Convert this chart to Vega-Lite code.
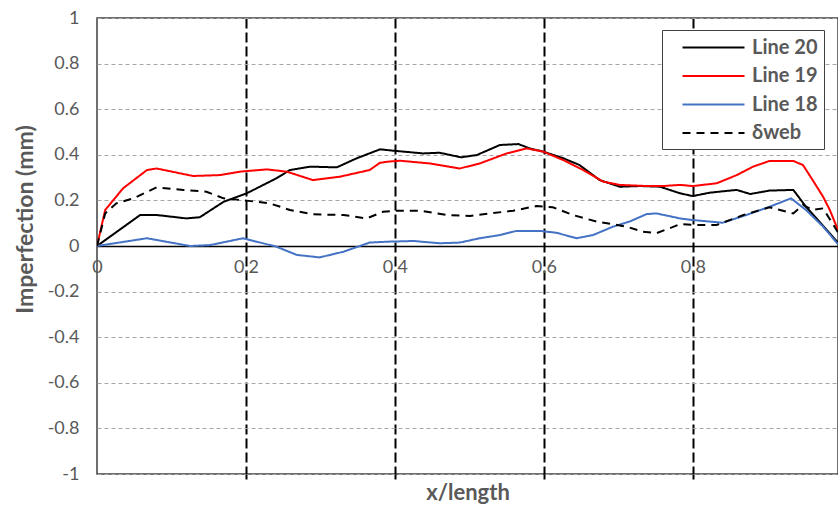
{
  "$schema": "https://vega.github.io/schema/vega-lite/v6.json",
  "width": 741,
  "height": 456,
  "autosize": {"type": "none"},
  "padding": {"left": 97, "top": 18, "right": 0, "bottom": 37},
  "background": "white",
  "config": {
    "font": "Lato",
    "view": {"stroke": "#404040", "strokeWidth": 1.5}
  },
  "data": {
    "values": [
      {"s": "Line 20", "x": 0, "y": 0},
      {"s": "Line 20", "x": 0.058, "y": 0.136},
      {"s": "Line 20", "x": 0.08, "y": 0.136},
      {"s": "Line 20", "x": 0.12, "y": 0.121},
      {"s": "Line 20", "x": 0.138, "y": 0.126},
      {"s": "Line 20", "x": 0.17, "y": 0.194},
      {"s": "Line 20", "x": 0.201, "y": 0.231},
      {"s": "Line 20", "x": 0.241, "y": 0.297},
      {"s": "Line 20", "x": 0.259, "y": 0.333},
      {"s": "Line 20", "x": 0.286, "y": 0.348},
      {"s": "Line 20", "x": 0.322, "y": 0.345},
      {"s": "Line 20", "x": 0.349, "y": 0.385},
      {"s": "Line 20", "x": 0.38, "y": 0.424},
      {"s": "Line 20", "x": 0.398, "y": 0.418},
      {"s": "Line 20", "x": 0.438, "y": 0.406},
      {"s": "Line 20", "x": 0.46, "y": 0.409},
      {"s": "Line 20", "x": 0.489, "y": 0.389},
      {"s": "Line 20", "x": 0.51, "y": 0.399},
      {"s": "Line 20", "x": 0.541, "y": 0.443},
      {"s": "Line 20", "x": 0.566, "y": 0.447},
      {"s": "Line 20", "x": 0.581, "y": 0.428},
      {"s": "Line 20", "x": 0.599, "y": 0.414},
      {"s": "Line 20", "x": 0.626, "y": 0.385},
      {"s": "Line 20", "x": 0.648, "y": 0.355},
      {"s": "Line 20", "x": 0.675, "y": 0.289},
      {"s": "Line 20", "x": 0.702, "y": 0.26},
      {"s": "Line 20", "x": 0.729, "y": 0.263},
      {"s": "Line 20", "x": 0.756, "y": 0.26},
      {"s": "Line 20", "x": 0.783, "y": 0.231},
      {"s": "Line 20", "x": 0.8, "y": 0.219},
      {"s": "Line 20", "x": 0.823, "y": 0.234},
      {"s": "Line 20", "x": 0.859, "y": 0.246},
      {"s": "Line 20", "x": 0.877, "y": 0.228},
      {"s": "Line 20", "x": 0.903, "y": 0.243},
      {"s": "Line 20", "x": 0.935, "y": 0.246},
      {"s": "Line 20", "x": 0.952, "y": 0.172},
      {"s": "Line 20", "x": 0.97, "y": 0.107},
      {"s": "Line 20", "x": 0.995, "y": 0.015},
      {"s": "Line 19", "x": 0, "y": 0},
      {"s": "Line 19", "x": 0.011, "y": 0.158},
      {"s": "Line 19", "x": 0.035, "y": 0.253},
      {"s": "Line 19", "x": 0.067, "y": 0.333},
      {"s": "Line 19", "x": 0.08, "y": 0.34},
      {"s": "Line 19", "x": 0.129, "y": 0.307},
      {"s": "Line 19", "x": 0.165, "y": 0.311},
      {"s": "Line 19", "x": 0.192, "y": 0.326},
      {"s": "Line 19", "x": 0.228, "y": 0.336},
      {"s": "Line 19", "x": 0.255, "y": 0.326},
      {"s": "Line 19", "x": 0.29, "y": 0.289},
      {"s": "Line 19", "x": 0.326, "y": 0.304},
      {"s": "Line 19", "x": 0.366, "y": 0.333},
      {"s": "Line 19", "x": 0.38, "y": 0.365},
      {"s": "Line 19", "x": 0.391, "y": 0.37},
      {"s": "Line 19", "x": 0.407, "y": 0.374},
      {"s": "Line 19", "x": 0.447, "y": 0.362},
      {"s": "Line 19", "x": 0.487, "y": 0.34},
      {"s": "Line 19", "x": 0.514, "y": 0.362},
      {"s": "Line 19", "x": 0.55, "y": 0.406},
      {"s": "Line 19", "x": 0.577, "y": 0.428},
      {"s": "Line 19", "x": 0.599, "y": 0.414},
      {"s": "Line 19", "x": 0.626, "y": 0.377},
      {"s": "Line 19", "x": 0.653, "y": 0.333},
      {"s": "Line 19", "x": 0.68, "y": 0.282},
      {"s": "Line 19", "x": 0.702, "y": 0.268},
      {"s": "Line 19", "x": 0.738, "y": 0.263},
      {"s": "Line 19", "x": 0.76, "y": 0.263},
      {"s": "Line 19", "x": 0.783, "y": 0.268},
      {"s": "Line 19", "x": 0.8, "y": 0.263},
      {"s": "Line 19", "x": 0.832, "y": 0.275},
      {"s": "Line 19", "x": 0.859, "y": 0.311},
      {"s": "Line 19", "x": 0.881, "y": 0.348},
      {"s": "Line 19", "x": 0.903, "y": 0.373},
      {"s": "Line 19", "x": 0.935, "y": 0.373},
      {"s": "Line 19", "x": 0.948, "y": 0.355},
      {"s": "Line 19", "x": 0.961, "y": 0.289},
      {"s": "Line 19", "x": 0.975, "y": 0.216},
      {"s": "Line 19", "x": 0.984, "y": 0.158},
      {"s": "Line 19", "x": 0.995, "y": 0.07},
      {"s": "Line 18", "x": 0, "y": 0},
      {"s": "Line 18", "x": 0.067, "y": 0.034},
      {"s": "Line 18", "x": 0.125, "y": 0.0},
      {"s": "Line 18", "x": 0.152, "y": 0.004},
      {"s": "Line 18", "x": 0.196, "y": 0.034},
      {"s": "Line 18", "x": 0.241, "y": -0.003},
      {"s": "Line 18", "x": 0.268, "y": -0.039},
      {"s": "Line 18", "x": 0.299, "y": -0.05},
      {"s": "Line 18", "x": 0.331, "y": -0.025},
      {"s": "Line 18", "x": 0.366, "y": 0.015},
      {"s": "Line 18", "x": 0.391, "y": 0.019},
      {"s": "Line 18", "x": 0.425, "y": 0.022},
      {"s": "Line 18", "x": 0.46, "y": 0.012},
      {"s": "Line 18", "x": 0.487, "y": 0.015},
      {"s": "Line 18", "x": 0.514, "y": 0.034},
      {"s": "Line 18", "x": 0.541, "y": 0.048},
      {"s": "Line 18", "x": 0.563, "y": 0.066},
      {"s": "Line 18", "x": 0.595, "y": 0.066},
      {"s": "Line 18", "x": 0.617, "y": 0.058},
      {"s": "Line 18", "x": 0.644, "y": 0.034},
      {"s": "Line 18", "x": 0.666, "y": 0.048},
      {"s": "Line 18", "x": 0.693, "y": 0.085},
      {"s": "Line 18", "x": 0.715, "y": 0.107},
      {"s": "Line 18", "x": 0.738, "y": 0.14},
      {"s": "Line 18", "x": 0.751, "y": 0.143},
      {"s": "Line 18", "x": 0.783, "y": 0.121},
      {"s": "Line 18", "x": 0.8, "y": 0.114},
      {"s": "Line 18", "x": 0.84, "y": 0.102},
      {"s": "Line 18", "x": 0.872, "y": 0.136},
      {"s": "Line 18", "x": 0.903, "y": 0.172},
      {"s": "Line 18", "x": 0.932, "y": 0.209},
      {"s": "Line 18", "x": 0.952, "y": 0.158},
      {"s": "Line 18", "x": 0.975, "y": 0.085},
      {"s": "Line 18", "x": 0.995, "y": 0.008},
      {"s": "δweb", "x": 0, "y": 0},
      {"s": "δweb", "x": 0.011, "y": 0.143},
      {"s": "δweb", "x": 0.026, "y": 0.187},
      {"s": "δweb", "x": 0.049, "y": 0.209},
      {"s": "δweb", "x": 0.08, "y": 0.257},
      {"s": "δweb", "x": 0.116, "y": 0.246},
      {"s": "δweb", "x": 0.147, "y": 0.238},
      {"s": "δweb", "x": 0.17, "y": 0.209},
      {"s": "δweb", "x": 0.201, "y": 0.199},
      {"s": "δweb", "x": 0.232, "y": 0.187},
      {"s": "δweb", "x": 0.259, "y": 0.158},
      {"s": "δweb", "x": 0.29, "y": 0.139},
      {"s": "δweb", "x": 0.331, "y": 0.136},
      {"s": "δweb", "x": 0.362, "y": 0.121},
      {"s": "δweb", "x": 0.384, "y": 0.15},
      {"s": "δweb", "x": 0.402, "y": 0.155},
      {"s": "δweb", "x": 0.434, "y": 0.155},
      {"s": "δweb", "x": 0.469, "y": 0.136},
      {"s": "δweb", "x": 0.501, "y": 0.132},
      {"s": "δweb", "x": 0.559, "y": 0.155},
      {"s": "δweb", "x": 0.59, "y": 0.175},
      {"s": "δweb", "x": 0.612, "y": 0.17},
      {"s": "δweb", "x": 0.639, "y": 0.136},
      {"s": "δweb", "x": 0.671, "y": 0.107},
      {"s": "δweb", "x": 0.711, "y": 0.085},
      {"s": "δweb", "x": 0.733, "y": 0.063},
      {"s": "δweb", "x": 0.751, "y": 0.056},
      {"s": "δweb", "x": 0.769, "y": 0.078},
      {"s": "δweb", "x": 0.783, "y": 0.096},
      {"s": "δweb", "x": 0.805, "y": 0.092},
      {"s": "δweb", "x": 0.832, "y": 0.092},
      {"s": "δweb", "x": 0.868, "y": 0.136},
      {"s": "δweb", "x": 0.903, "y": 0.17},
      {"s": "δweb", "x": 0.935, "y": 0.143},
      {"s": "δweb", "x": 0.948, "y": 0.18},
      {"s": "δweb", "x": 0.961, "y": 0.158},
      {"s": "δweb", "x": 0.975, "y": 0.165},
      {"s": "δweb", "x": 0.995, "y": 0.06}
    ]
  },
  "layer": [
    {
      "mark": {"type": "line", "strokeWidth": 2, "clip": true},
      "encoding": {
        "x": {
          "field": "x", "type": "quantitative",
          "scale": {"domain": [0, 0.995], "nice": false, "zero": false},
          "axis": {
            "orient": "bottom", "offset": -228,
            "values": [0, 0.2, 0.4, 0.6, 0.8],
            "grid": false, "ticks": false,
            "domain": true, "domainColor": "#000000", "domainWidth": 1.5,
            "labelExpr": "toString(round(datum.value*10)/10)",
            "labelFontSize": 18, "labelColor": "#595959", "labelPadding": 12,
            "labelFlush": false, "labelOverlap": false,
            "title": null
          }
        },
        "y": {
          "field": "y", "type": "quantitative",
          "scale": {"domain": [-1, 1], "nice": false},
          "axis": {
            "values": [-1, -0.8, -0.6, -0.4, -0.2, 0, 0.2, 0.4, 0.6, 0.8, 1],
            "grid": true, "gridColor": "#a6a6a6", "gridDash": [4, 3], "gridWidth": 1,
            "ticks": false, "domain": false,
            "labelExpr": "toString(round(datum.value*10)/10)",
            "labelFontSize": 18, "labelColor": "#595959", "labelPadding": 18,
            "labelFlush": false, "labelOverlap": false,
            "title": "Imperfection (mm)",
            "titleFontSize": 23, "titleFontWeight": "bold", "titleColor": "#595959",
            "titleX": -72, "titleY": 201, "titleBaseline": "middle", "titleAngle": -90, "titleAlign": "center"
          }
        },
        "color": {
          "field": "s", "type": "nominal",
          "scale": {"domain": ["Line 20", "Line 19", "Line 18", "δweb"], "range": ["#000000", "#ff0000", "#4472c4", "#000000"]},
          "legend": {
            "orient": "none", "legendX": 565, "legendY": 12,
            "title": null, "symbolType": "M-3,0H3", "symbolSize": 427, "symbolStrokeWidth": 2,
            "symbolOffset": 34, "symbolFillColor": "transparent",
            "labelFontSize": 20, "labelFontWeight": "bold", "labelColor": "#595959", "labelOffset": 27,
            "strokeColor": "#404040", "fillColor": "white", "padding": 6, "rowPadding": 6.5
          }
        },
        "strokeDash": {
          "field": "s", "type": "nominal",
          "scale": {"domain": ["Line 20", "Line 19", "Line 18", "δweb"], "range": [[1, 0], [1, 0], [1, 0], [8, 6]]},
          "legend": {
            "orient": "none", "legendX": 565, "legendY": 12,
            "title": null, "symbolType": "M-3,0H3", "symbolSize": 427, "symbolStrokeWidth": 2,
            "symbolOffset": 34, "symbolFillColor": "transparent",
            "labelFontSize": 20, "labelFontWeight": "bold", "labelColor": "#595959", "labelOffset": 27,
            "strokeColor": "#404040", "fillColor": "white", "padding": 6, "rowPadding": 6.5
          }
        }
      }
    },
    {
      "mark": {"type": "point", "opacity": 0},
      "encoding": {
        "x": {
          "field": "x", "type": "quantitative",
          "axis": {
            "orient": "bottom", "offset": 0,
            "values": [0.2, 0.4, 0.6, 0.8],
            "grid": true, "gridColor": "#000000", "gridDash": [10, 4], "gridWidth": 2,
            "labels": false, "ticks": true, "tickSize": 5, "tickColor": "#000000", "tickWidth": 2,
            "domain": false,
            "title": "x/length", "titleFontSize": 22, "titleFontWeight": "bold", "titleColor": "#595959",
            "titlePadding": 2
          }
        },
        "y": {"field": "y", "type": "quantitative"}
      }
    }
  ],
  "resolve": {"axis": {"x": "independent"}}
}
